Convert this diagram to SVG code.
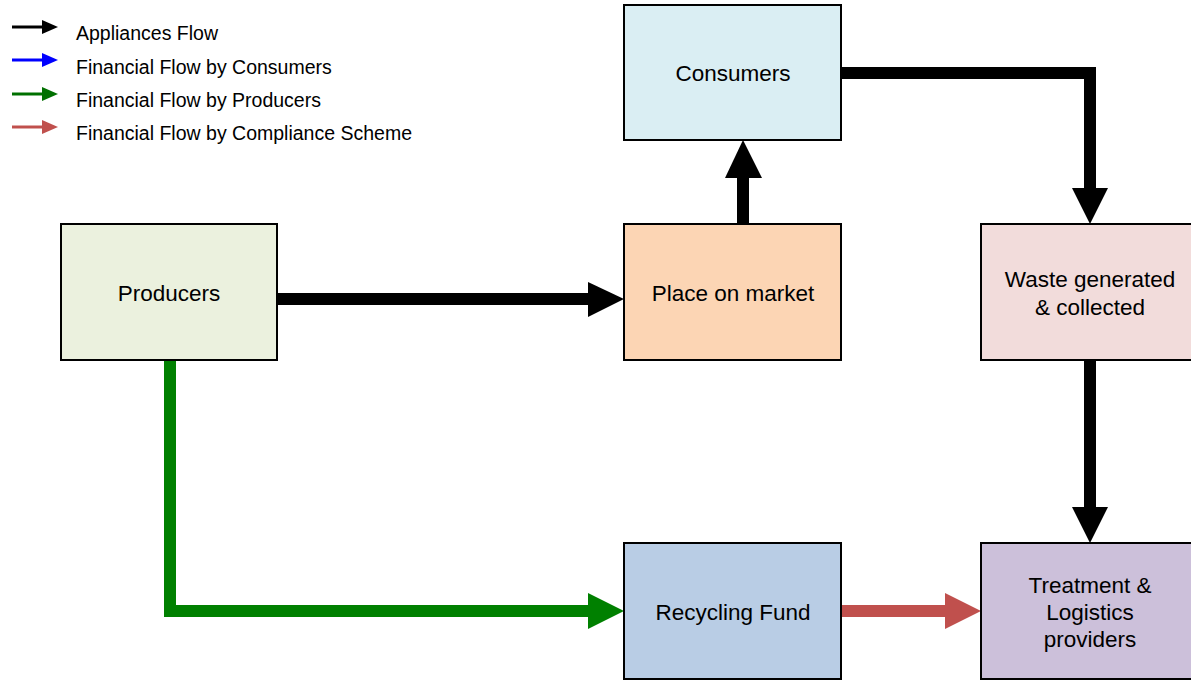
<svg xmlns="http://www.w3.org/2000/svg" width="1191" height="680" viewBox="0 0 1191 680">
<style>
.box{stroke:#000;stroke-width:2}
.lbl{font-family:"Liberation Sans",Arial,sans-serif;font-size:22.5px;fill:#000;text-anchor:middle}
.leg{font-family:"Liberation Sans",Arial,sans-serif;font-size:19.5px;fill:#000}
.fl{fill:none;stroke-width:12}
</style>
<rect width="1191" height="680" fill="#fff"/>
<g id="legend">
<line x1="12" y1="27" x2="44" y2="27" stroke="#000" stroke-width="3"/><polygon points="42,20 58,27 42,34" fill="#000"/>
<text class="leg" x="76" y="40">Appliances Flow</text>
<line x1="12" y1="60" x2="44" y2="60" stroke="#0000ff" stroke-width="3"/><polygon points="42,53 58,60 42,67" fill="#0000ff"/>
<text class="leg" x="76" y="74">Financial Flow by Consumers</text>
<line x1="12" y1="94" x2="44" y2="94" stroke="#007000" stroke-width="3"/><polygon points="42,87 58,94 42,101" fill="#007000"/>
<text class="leg" x="76" y="107">Financial Flow by Producers</text>
<line x1="12" y1="127" x2="44" y2="127" stroke="#c0504d" stroke-width="3"/><polygon points="42,120 58,127 42,134" fill="#c0504d"/>
<text class="leg" x="76" y="140">Financial Flow by Compliance Scheme</text>
</g>
<g id="connectors">
<polyline class="fl" stroke="#000" points="277,299 590,299"/>
<polygon points="588,282 624,299 588,317" fill="#000"/>
<polyline class="fl" stroke="#000" points="743,224 743,176"/>
<polygon points="725,178 743,140 762,178" fill="#000"/>
<polyline class="fl" stroke="#000" points="841,73 1090,73 1090,190"/>
<polygon points="1072,188 1090,224 1108,188" fill="#000"/>
<polyline class="fl" stroke="#000" points="1090,360 1090,509"/>
<polygon points="1072,507 1090,543 1108,507" fill="#000"/>
<polyline class="fl" stroke="#008000" points="170,360 170,611 590,611"/>
<polygon points="588,593 624,611 588,629" fill="#008000"/>
<polyline class="fl" stroke="#c0504d" points="841,611 947,611"/>
<polygon points="945,593 981,611 945,629" fill="#c0504d"/>
</g>
<g id="producers"><rect class="box" x="61" y="224" width="216" height="136" fill="#ebf1de"/><text class="lbl" x="169" y="301">Producers</text></g>
<g id="place"><rect class="box" x="624" y="224" width="217" height="136" fill="#fcd5b4"/><text class="lbl" x="733" y="301">Place on market</text></g>
<g id="consumers"><rect class="box" x="624" y="5" width="217" height="135" fill="#daeef3"/><text class="lbl" x="733" y="81">Consumers</text></g>
<g id="waste"><rect class="box" x="981" y="224" width="212" height="136" fill="#f2dcdb"/><text class="lbl" x="1090" y="287">Waste generated</text><text class="lbl" x="1090" y="315">&amp; collected</text></g>
<g id="fund"><rect class="box" x="624" y="543" width="217" height="136" fill="#b9cde5"/><text class="lbl" x="733" y="620">Recycling Fund</text></g>
<g id="treatment"><rect class="box" x="981" y="543" width="212" height="136" fill="#ccc0da"/><text class="lbl" x="1090" y="593">Treatment &amp;</text><text class="lbl" x="1090" y="620">Logistics</text><text class="lbl" x="1090" y="647">providers</text></g>
</svg>
